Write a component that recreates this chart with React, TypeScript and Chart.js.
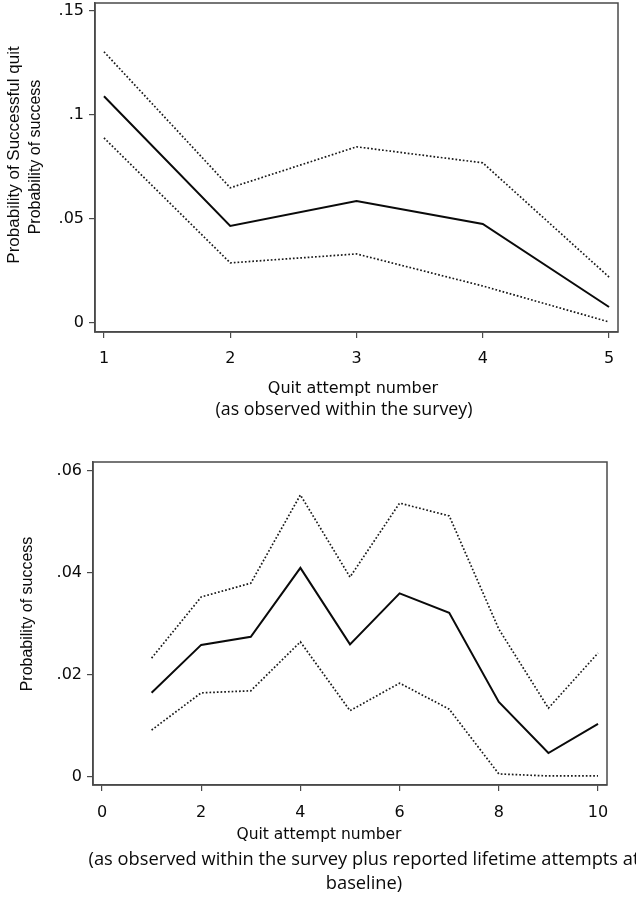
import React, { useEffect, useRef } from "react";
import { Chart, registerables } from "chart.js";

Chart.register(...registerables);

// ---------- data ----------
const topAttempts = [1, 2, 3, 4, 5];
const topMean = [0.109, 0.0467, 0.0587, 0.0476, 0.0077];
const topUpper = [0.1304, 0.065, 0.0847, 0.077, 0.0221];
const topLower = [0.089, 0.0289, 0.0332, 0.0178, 0.0005];
const topXTicks = [1, 2, 3, 4, 5];
const topYTicks = [0, 0.05, 0.1, 0.15];
const topYTickLabels = ["0", ".05", ".1", ".15"];

const bottomAttempts = [1, 2, 3, 4, 5, 6, 7, 8, 9, 10];
const bottomMean = [0.0165, 0.0259, 0.0275, 0.041, 0.026, 0.036, 0.0322, 0.0147, 0.0047, 0.0104];
const bottomUpper = [0.0233, 0.0353, 0.038, 0.0553, 0.0392, 0.0537, 0.0512, 0.029, 0.0135, 0.0243];
const bottomLower = [0.0092, 0.0165, 0.0169, 0.0265, 0.013, 0.0184, 0.0133, 0.0006, 0.0002, 0.0002];
const bottomXTicks = [0, 2, 4, 6, 8, 10];
const bottomYTicks = [0, 0.02, 0.04, 0.06];
const bottomYTickLabels = ["0", ".02", ".04", ".06"];

const topYTitle1 = "Probability of Successful quit";
const topYTitle2 = "Probability of success";
const topXTitle1 = "Quit attempt number";
const topXTitle2 = "(as observed within the survey)";
const bottomYTitle = "Probability of success";
const bottomXTitle1 = "Quit attempt number";
const bottomXTitle2 = "(as observed within the survey plus reported lifetime attempts at";
const bottomXTitle3 = "baseline)";

// ---------- layout / style ----------
type TextSpec = { text: string; x: number; y: number; font: string; rotate?: boolean };
type Panel = {
  width: number;
  height: number;
  top: number;
  area: { left: number; top: number; right: number; bottom: number };
  xs: number[];
  mean: number[];
  upper: number[];
  lower: number[];
  xTicks: number[];
  yTicks: number[];
  yTickLabels: string[];
  xMin: number;
  xMax: number;
  yMin: number;
  yMax: number;
  xLabelPad: number;
  texts: TextSpec[];
};

const TICK_FONT = { family: "'DejaVu Sans'", size: 16 };
const INK = "#0a0a0a";
const FRAME = "#4a4a4a";

const panels: Panel[] = [
  {
    width: 636,
    height: 420,
    top: 0,
    area: { left: 95, top: 3, right: 618, bottom: 332 },
    xs: topAttempts,
    mean: topMean,
    upper: topUpper,
    lower: topLower,
    xTicks: topXTicks,
    yTicks: topYTicks,
    yTickLabels: topYTickLabels,
    xMin: 0.929,
    xMax: 5.071,
    yMin: -0.00433,
    yMax: 0.15385,
    xLabelPad: 11,
    texts: [
      { text: topYTitle1, x: 14, y: 155, font: "17px 'Liberation Sans'", rotate: true },
      { text: topYTitle2, x: 36, y: 157, font: "16px 'Liberation Sans'", rotate: true },
      { text: topXTitle1, x: 353, y: 389, font: "16px 'DejaVu Sans'" },
      { text: topXTitle2, x: 344, y: 410, font: "17.8px 'Open Sans'" },
    ],
  },
  {
    width: 636,
    height: 480,
    top: 420,
    area: { left: 93, top: 42, right: 607, bottom: 365 },
    xs: bottomAttempts,
    mean: bottomMean,
    upper: bottomUpper,
    lower: bottomLower,
    xTicks: bottomXTicks,
    yTicks: bottomYTicks,
    yTickLabels: bottomYTickLabels,
    xMin: -0.181,
    xMax: 10.181,
    yMin: -0.00157,
    yMax: 0.06176,
    xLabelPad: 12,
    texts: [
      { text: bottomYTitle, x: 28, y: 194, font: "16px 'Liberation Sans'", rotate: true },
      { text: bottomXTitle1, x: 319, y: 415, font: "15.5px 'DejaVu Sans'" },
      { text: bottomXTitle2, x: 364, y: 440, font: "18.3px 'Open Sans'" },
      { text: bottomXTitle3, x: 364, y: 464, font: "18.3px 'Open Sans'" },
    ],
  },
];

function buildConfig(p: Panel): any {
  const pts = (vals: number[]) => p.xs.map((x, i) => ({ x, y: vals[i] }));
  const frameAndText = {
    id: "frameAndText",
    afterDraw(chart: any) {
      const ctx = chart.ctx;
      const a = chart.chartArea;
      ctx.save();
      ctx.strokeStyle = FRAME;
      ctx.lineWidth = 1.5;
      ctx.strokeRect(a.left, a.top, a.right - a.left, a.bottom - a.top);
      ctx.fillStyle = INK;
      ctx.textAlign = "center";
      ctx.textBaseline = "middle";
      for (const t of p.texts) {
        ctx.font = t.font;
        if (t.rotate) {
          ctx.save();
          ctx.translate(t.x, t.y);
          ctx.rotate(-Math.PI / 2);
          ctx.fillText(t.text, 0, 0);
          ctx.restore();
        } else {
          ctx.fillText(t.text, t.x, t.y);
        }
      }
      ctx.restore();
    },
  };
  const dotted = { borderColor: "#1a1a1a", borderWidth: 1.7, borderDash: [1.7, 2], pointRadius: 0, tension: 0 };
  return {
    type: "line",
    data: {
      datasets: [
        { data: pts(p.upper), ...dotted },
        { data: pts(p.mean), borderColor: INK, borderWidth: 2, pointRadius: 0, tension: 0 },
        { data: pts(p.lower), ...dotted },
      ],
    },
    options: {
      responsive: false,
      animation: false,
      events: [],
      layout: {
        padding: { top: p.area.top, right: p.width - p.area.right, left: 0, bottom: 0 },
      },
      plugins: { legend: { display: false }, tooltip: { enabled: false }, title: { display: false } },
      scales: {
        x: {
          type: "linear",
          min: p.xMin,
          max: p.xMax,
          afterBuildTicks: (s: any) => {
            s.ticks = p.xTicks.map((v) => ({ value: v }));
          },
          afterFit: (s: any) => {
            s.height = p.height - p.area.bottom;
            s.paddingLeft = 0;
            s.paddingRight = 0;
          },
          ticks: {
            font: TICK_FONT,
            color: INK,
            padding: p.xLabelPad,
            maxRotation: 0,
            autoSkip: false,
            callback: (v: number) => String(v),
          },
          grid: { drawOnChartArea: false, drawTicks: true, tickLength: 6, color: FRAME, lineWidth: 1.2 },
          border: { display: true, color: FRAME, width: 1.5 },
        },
        y: {
          type: "linear",
          min: p.yMin,
          max: p.yMax,
          afterBuildTicks: (s: any) => {
            s.ticks = p.yTicks.map((v) => ({ value: v }));
          },
          afterFit: (s: any) => {
            s.width = p.area.left;
            s.paddingTop = 0;
            s.paddingBottom = 0;
          },
          ticks: {
            font: TICK_FONT,
            color: INK,
            padding: 5,
            autoSkip: false,
            callback: (v: number) => {
              const i = p.yTicks.findIndex((t) => Math.abs(t - v) < 1e-9);
              return i >= 0 ? p.yTickLabels[i] : "";
            },
          },
          grid: { drawOnChartArea: false, drawTicks: true, tickLength: 6, color: FRAME, lineWidth: 1.2 },
          border: { display: true, color: FRAME, width: 1.5 },
        },
      },
    },
    plugins: [frameAndText],
  };
}

function PanelChart({ panel }: { panel: Panel }) {
  const ref = useRef<HTMLCanvasElement | null>(null);
  useEffect(() => {
    if (!ref.current) return;
    const chart = new Chart(ref.current, buildConfig(panel));
    return () => chart.destroy();
  }, [panel]);
  return (
    <canvas
      ref={ref}
      width={panel.width}
      height={panel.height}
      style={{ position: "absolute", left: 0, top: panel.top, width: panel.width, height: panel.height }}
    />
  );
}

export default function App() {
  return (
    <div style={{ position: "absolute", left: 0, top: 0, width: 636, height: 900, background: "#ffffff" }}>
      {panels.map((p, i) => (
        <PanelChart key={i} panel={p} />
      ))}
    </div>
  );
}
